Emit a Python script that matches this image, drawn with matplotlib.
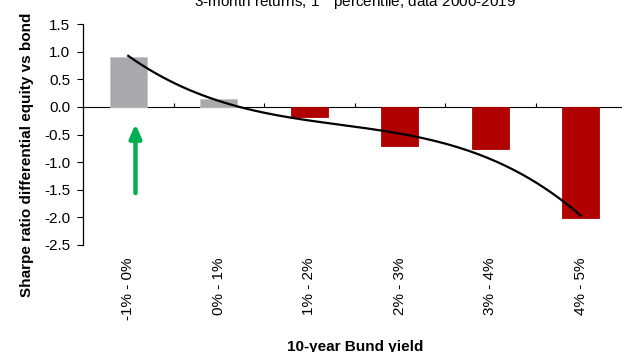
import numpy as np
import matplotlib
matplotlib.use("Agg")
import matplotlib.pyplot as plt

plt.rcParams['font.family'] = ['Liberation Sans', 'DejaVu Sans']

categories = ["-1% - 0%", "0% - 1%", "1% - 2%", "2% - 3%", "3% - 4%", "4% - 5%"]
values = [0.90, 0.15, -0.18, -0.70, -0.76, -2.02]
colors = ["#A9A9AD", "#A9A9AD", "#B00000", "#B00000", "#B00000", "#B00000"]
yticks = [1.5, 1.0, 0.5, 0.0, -0.5, -1.0, -1.5, -2.0, -2.5]
title = "3-month returns, 1$^{\\mathrm{st}}$ percentile, data 2000-2019"
ylabel = "Sharpe ratio differential equity vs bond"
xlabel = "10-year Bund yield"
arrow_x = 0.08
arrow_from = -1.56
arrow_to = -0.31

W, H = 622, 352
fig = plt.figure(figsize=(W / 100, H / 100), dpi=100)
left, right, top, bottom = 83, 626, 24, 245
ax = fig.add_axes([left / W, 1 - bottom / H, (right - left) / W, (bottom - top) / H])

x = np.arange(len(categories))
ax.bar(x, values, width=0.41, color=colors, edgecolor=[c if c != "#A9A9AD" else "#C8C8CB" for c in colors],
       linewidth=0.6, zorder=2)

# cubic trend line (like a spreadsheet polynomial trendline)
coef = np.polyfit(x, values, 3)
xs = np.linspace(0, len(categories) - 1, 200)
ax.plot(xs, np.polyval(coef, xs), color="black", lw=1.6, zorder=3)

ax.set_xlim(-0.5, len(categories) - 0.5)
ax.set_ylim(-2.5, 1.5)
ax.set_yticks(yticks)
ax.set_yticklabels([f"{v:.1f}" for v in yticks])
ax.tick_params(axis='y', direction='out', length=4, width=0.8, labelsize=11, pad=5)
ax.set_xticks(x)
ax.set_xticklabels(categories, rotation=90, fontsize=11)
ax.tick_params(axis='x', length=0, pad=9)

for s in ["top", "right", "bottom"]:
    ax.spines[s].set_visible(False)
ax.spines["left"].set_linewidth(0.9)

# zero line with category boundary ticks
sec = ax.secondary_xaxis(2.5 / 4.0)
sec.set_xticks(np.arange(0.5, len(categories) - 0.5, 1.0))
sec.set_xticklabels([])
sec.tick_params(axis='x', direction='out', length=3, width=0.8)
sec.spines["bottom"].set_linewidth(1.2)

ax.annotate("", xy=(arrow_x, arrow_to), xytext=(arrow_x, arrow_from),
            arrowprops=dict(arrowstyle="-|>,head_width=0.35,head_length=0.8",
                            color="#00B050", lw=3.2, shrinkA=0, shrinkB=0), zorder=4)

fig.text(355 / W, 1 - 7 / H, title, ha="center", va="baseline", fontsize=11)
fig.text(27 / W, 1 - 155 / H, ylabel, rotation=90, ha="center", va="center",
         fontsize=11, fontweight="bold")
fig.text(355 / W, 1 - 340 / H, xlabel, ha="center", va="top", fontsize=11, fontweight="bold")

fig.savefig("out.png", dpi=100)
